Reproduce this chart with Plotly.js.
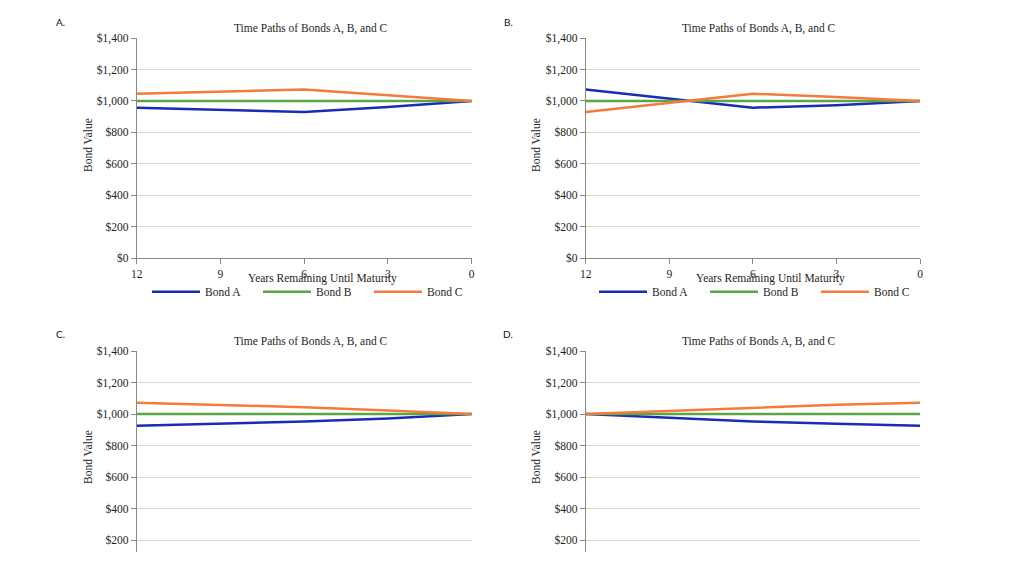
<!DOCTYPE html>
<html>
<head>
<meta charset="utf-8">
<script src="https://cdn.plot.ly/plotly-3.0.1.min.js"></script>
<style>
html,body{margin:0;padding:0;background:#fff;overflow:hidden;}
#chart{width:1024px;height:570px;}
</style>
</head>
<body>
<div id="chart"></div>
<script>
// ---- data ----
var years = [12, 9, 6, 3, 0];
var seriesNames = ["Bond A", "Bond B", "Bond C"];
var panelLabels = ["A.", "B.", "C.", "D."];
var chartTitle = "Time Paths of Bonds A, B, and C";
var xTitle = "Years Remaining Until Maturity";
var yTitle = "Bond Value";
var yTicksTop = [0, 200, 400, 600, 800, 1000, 1200, 1400];
var yTickLabelsTop = ["$0", "$200", "$400", "$600", "$800", "$1,000", "$1,200", "$1,400"];
var yTicksBottom = [200, 400, 600, 800, 1000, 1200, 1400];
var yTickLabelsBottom = ["$200", "$400", "$600", "$800", "$1,000", "$1,200", "$1,400"];

// panel A
var bondA_panelA = [957, 943, 930, 962, 1000];
var bondB_panelA = [1000, 1000, 1000, 1000, 1000];
var bondC_panelA = [1046, 1060, 1073, 1036, 1000];
// panel B
var bondA_panelB = [1073, 1015, 957, 973, 1000];
var bondB_panelB = [1000, 1000, 1000, 1000, 1000];
var bondC_panelB = [930, 988, 1046, 1025, 1000];
// panel C
var bondA_panelC = [926, 940, 953, 972, 1000];
var bondB_panelC = [1000, 1000, 1000, 1000, 1000];
var bondC_panelC = [1072, 1057, 1043, 1022, 1000];
// panel D
var bondA_panelD = [1000, 975, 953, 938, 926];
var bondB_panelD = [1000, 1000, 1000, 1000, 1000];
var bondC_panelD = [1000, 1020, 1043, 1059, 1072];

// ---- style ----
var colors = ["#1b2bb3", "#57a845", "#f47a3e"];
var serif = "'Liberation Serif', 'Times New Roman', serif";
var txt = "#1e1e1e";
var fs = 11.5;
var W = 1024, H = 570;
function px(x){ return x / W; }
function py(y){ return (H - y) / H; }

var panels = [
  {vals:[bondA_panelA, bondB_panelA, bondC_panelA], xa:"x",  ya:"y",  legend:"legend"},
  {vals:[bondA_panelB, bondB_panelB, bondC_panelB], xa:"x2", ya:"y2", legend:"legend2"},
  {vals:[bondA_panelC, bondB_panelC, bondC_panelC], xa:"x3", ya:"y3", legend:null},
  {vals:[bondA_panelD, bondB_panelD, bondC_panelD], xa:"x4", ya:"y4", legend:null}
];

var traces = [];
panels.forEach(function(p){
  for (var i = 0; i < 3; i++) {
    var t = {
      type: "scatter", mode: "lines",
      x: years, y: p.vals[i],
      name: seriesNames[i],
      xaxis: p.xa, yaxis: p.ya,
      line: {color: colors[i], width: 2.5},
      hoverinfo: "x+y+name"
    };
    if (p.legend) { t.legend = p.legend; t.showlegend = true; }
    else { t.showlegend = false; }
    traces.push(t);
  }
});

function xAxis(dom, anchor, show){
  return {
    domain: dom, anchor: anchor, range: [12, 0],
    tickmode: "array", tickvals: years, ticktext: years.map(String),
    showticklabels: show, ticks: show ? "outside" : "", ticklen: 5, tickcolor: "#888",
    showline: show, linecolor: "#888", linewidth: 1,
    showgrid: false, zeroline: false, automargin: false,
    tickfont: {family: serif, size: fs, color: txt}
  };
}
function yAxis(dom, anchor, range, ticks, labels){
  return {
    domain: dom, anchor: anchor, range: range,
    tickmode: "array", tickvals: ticks, ticktext: labels,
    ticks: "outside", ticklen: 5, tickcolor: "#888",
    showline: true, linecolor: "#888", linewidth: 1,
    showgrid: true, gridcolor: "#d6d6d6", gridwidth: 1,
    zeroline: false, automargin: false,
    tickfont: {family: serif, size: fs, color: txt}
  };
}

var leftDom = [px(136.7), px(471.7)];
var rightDom = [px(585.7), px(920)];
var topDom = [py(258.3), py(38)];
var botDom = [py(552), py(351)];

var annotations = [];
function ann(text, x, y, opts){
  var a = {text: text, x: px(x), y: py(y), xref: "paper", yref: "paper",
    showarrow: false, xanchor: "center", yanchor: "middle",
    font: {family: serif, size: fs, color: txt}};
  for (var k in opts) a[k] = opts[k];
  annotations.push(a);
}
// panel letters
var sans = "Lato, 'Open Sans', sans-serif";
var letterFont = {family: sans, size: 10, color: "#111"};
ann(panelLabels[0], 60, 22, {font: letterFont});
ann(panelLabels[1], 508, 22, {font: letterFont});
ann(panelLabels[2], 60, 334, {font: letterFont});
ann(panelLabels[3], 508, 334, {font: letterFont});
// titles
ann(chartTitle, 311, 28, {});
ann(chartTitle, 759, 28, {});
ann(chartTitle, 311, 341, {});
ann(chartTitle, 759, 341, {});
// x titles
ann(xTitle, 322.7, 278.5, {});
ann(xTitle, 770.5, 278.5, {});
// y titles
ann(yTitle, 88, 145, {textangle: -90});
ann(yTitle, 536, 145, {textangle: -90});
ann(yTitle, 88, 457, {textangle: -90});
ann(yTitle, 536, 457, {textangle: -90});

var legendBase = {
  orientation: "h", yanchor: "middle", xanchor: "left",
  y: py(291.7), itemwidth: 48, entrywidth: 48, entrywidthmode: "pixels",
  font: {family: serif, size: fs, color: txt},
  bgcolor: "rgba(0,0,0,0)", borderwidth: 0, tracegroupgap: 0
};
var legend1 = Object.assign({}, legendBase, {x: px(147)});
var legend2 = Object.assign({}, legendBase, {x: px(594)});

var layout = {
  width: W, height: H,
  margin: {l: 0, r: 0, t: 0, b: 0, autoexpand: false},
  paper_bgcolor: "#fff", plot_bgcolor: "#fff",
  showlegend: true,
  legend: legend1, legend2: legend2,
  xaxis: xAxis(leftDom, "y", true),
  yaxis: yAxis(topDom, "x", [0, 1400], yTicksTop, yTickLabelsTop),
  xaxis2: xAxis(rightDom, "y2", true),
  yaxis2: yAxis(topDom, "x2", [0, 1400], yTicksTop, yTickLabelsTop),
  xaxis3: xAxis(leftDom, "y3", false),
  yaxis3: yAxis(botDom, "x3", [124, 1400], yTicksBottom, yTickLabelsBottom),
  xaxis4: xAxis(rightDom, "y4", false),
  yaxis4: yAxis(botDom, "x4", [124, 1400], yTicksBottom, yTickLabelsBottom),
  annotations: annotations
};

Plotly.newPlot("chart", traces, layout, {displayModeBar: false, staticPlot: true});
</script>
</body>
</html>
